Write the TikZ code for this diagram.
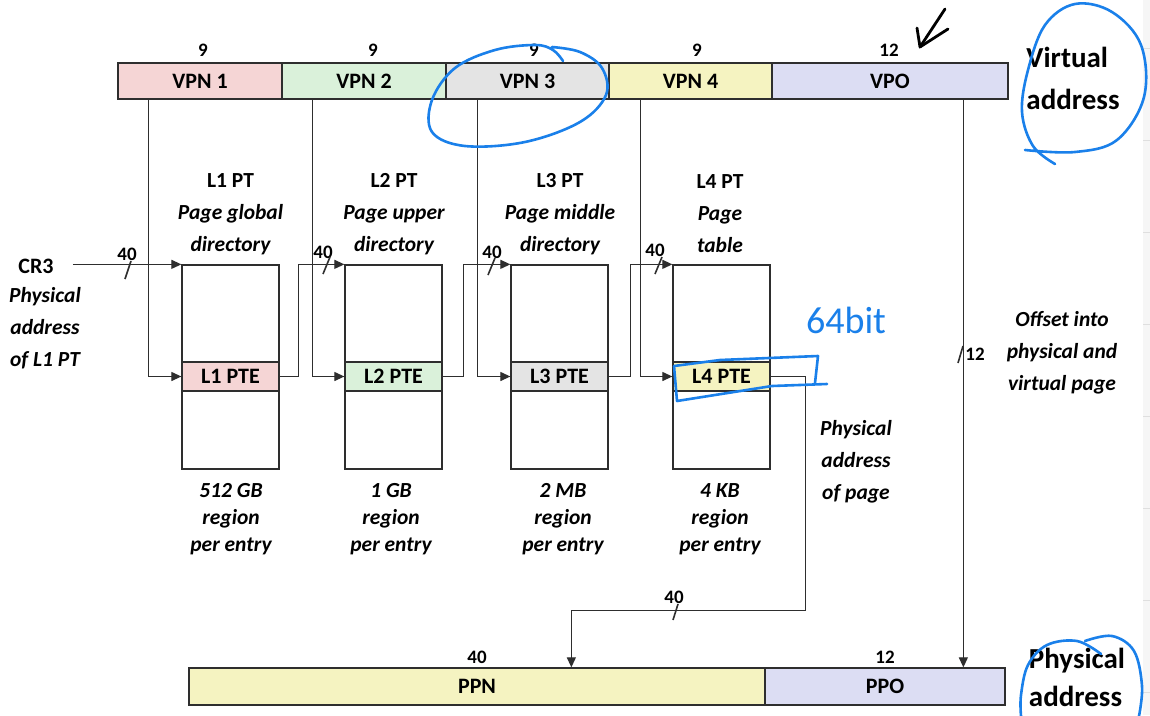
\documentclass[tikz,border=0pt]{standalone}
\usepackage{fontspec}
\setmainfont{Carlito}
\usetikzlibrary{arrows.meta,calc}
\definecolor{cpink}{HTML}{F5D5D5}
\definecolor{cgreen}{HTML}{DAF1DA}
\definecolor{cgray}{HTML}{E4E4E4}
\definecolor{cyellow}{HTML}{F5F3C1}
\definecolor{clav}{HTML}{DCDDF3}
\definecolor{lineC}{HTML}{2E2E2E}
\definecolor{handblue}{HTML}{1A80EA}
\tikzset{
  bar/.style={draw=lineC, line width=1.3pt, minimum height=36pt, inner sep=0pt, font=\fontsize{22}{26}\selectfont\bfseries},
  tbl/.style={draw=lineC, line width=1.3pt, minimum width=97pt, minimum height=204pt, inner sep=0pt},
  pte/.style={draw=lineC, line width=1.3pt, minimum width=97pt, minimum height=29pt, inner sep=0pt, font=\fontsize{22}{26}\selectfont\bfseries},
  bits/.style={font=\fontsize{19}{22}\selectfont\bfseries, inner sep=0pt},
  lbl/.style={font=\fontsize{21.5}{32}\selectfont\bfseries\itshape, align=center, inner sep=0pt},
  big/.style={font=\fontsize{29}{42}\selectfont\bfseries, align=left, inner sep=0pt},
  conn/.style={draw=lineC, line width=1.2pt},
  arr/.style={conn, -{Triangle[length=10pt,width=9pt]}},
  slash/.style={draw=lineC, line width=1.6pt},
  hand/.style={draw=handblue, line width=2.6pt, line cap=round, line join=round},
}
\begin{document}
\begin{tikzpicture}[x=1pt,y=-1pt]
\useasboundingbox (0,0) rectangle (1150,715);
\fill[white] (0,0) rectangle (1150,715);
% paper edge at right
\fill[gray!7] (1143,0) rectangle (1150,715);
\foreach \yy in {48,140,232,324,416,508,600,692} \draw[gray!25, line width=0.8pt] (1143,\yy) -- (1150,\yy);

% virtual address bar
\node[bar, fill=cpink,   minimum width=164pt] (vpn1) at (200,81)   {VPN 1};
\node[bar, fill=cgreen,  minimum width=164pt] (vpn2) at (364,81)   {VPN 2};
\node[bar, fill=cgray,   minimum width=163pt] (vpn3) at (527.5,81) {VPN 3};
\node[bar, fill=cyellow, minimum width=163pt] (vpn4) at (690.5,81) {VPN 4};
\node[bar, fill=clav,    minimum width=236pt] (vpo)  at (890,81)   {VPO};
\node[bits] (b1) at (203,50) {9};
\node[bits] (b2) at (373,50) {9};
\node[bits] (b3) at (534,50) {9};
\node[bits] (b4) at (697,50) {9};
\node[bits] (b5) at (889,50) {12};
\node[big] (va) at (1073,78) {Virtual\\address};

% page tables
\node[tbl] (l1t) at (230.5,367) {};
\node[tbl] (l2t) at (393.5,367) {};
\node[tbl] (l3t) at (559.5,367) {};
\node[tbl] (l4t) at (721.5,367) {};
\node[pte, fill=cpink]   (l1pte) at (230.5,376.5) {L1 PTE};
\node[pte, fill=cgreen]  (l2pte) at (393.5,376.5) {L2 PTE};
\node[pte, fill=cgray]   (l3pte) at (559.5,376.5) {L3 PTE};
\node[pte, fill=cyellow] (l4pte) at (721.5,376.5) {L4 PTE};

\node[lbl] (h1) at (230.5,214) {{\upshape L1 PT}\\Page global\\directory};
\node[lbl] (h2) at (394,214)   {{\upshape L2 PT}\\Page upper\\directory};
\node[lbl] (h3) at (560,214)   {{\upshape L3 PT}\\Page middle\\directory};
\node[lbl] (h4) at (720,214)   {{\upshape L4 PT}\\Page\\table};

\node[lbl, font=\fontsize{21.5}{27}\selectfont\bfseries\itshape] (r1) at (231,519) {512 GB\\region\\per entry};
\node[lbl, font=\fontsize{21.5}{27}\selectfont\bfseries\itshape] (r2) at (391,519) {1 GB\\region\\per entry};
\node[lbl, font=\fontsize{21.5}{27}\selectfont\bfseries\itshape] (r3) at (563,519) {2 MB\\region\\per entry};
\node[lbl, font=\fontsize{21.5}{27}\selectfont\bfseries\itshape] (r4) at (720,519) {4 KB\\region\\per entry};

% CR3
\node[inner sep=0pt, font=\fontsize{22}{26}\selectfont\bfseries] (cr3) at (36,266) {CR3};
\node[lbl] (cr3t) at (45,328) {Physical\\address\\of L1 PT};

% right texts
\node[lbl] (off) at (1062,353) {Offset into\\physical and\\virtual page};
\node[lbl] (pap) at (856,462) {Physical\\address\\of page};

% physical address bar
\node[bar, fill=cyellow, minimum width=576pt, minimum height=37pt] (ppn) at (477,686.5) {PPN};
\node[bar, fill=clav,    minimum width=240pt, minimum height=37pt] (ppo) at (885,686.5) {PPO};
\node[bits] (b6) at (477,657) {40};
\node[bits] (b7) at (885,657) {12};
\node[big, font=\fontsize{29}{38}\selectfont\bfseries] (pa) at (1077,677) {Physical\\address};

% connectors
\draw[arr] ($(cr3.east |- l1t.north)+(19,0)$) -- (l1t.north west);
\draw[arr] ([xshift=31]vpn1.south west) |- (l1pte.west);
\draw[arr] ([xshift=31]vpn2.south west) |- (l2pte.west);
\draw[arr] ([xshift=32]vpn3.south west) |- (l3pte.west);
\draw[arr] ([xshift=32]vpn4.south west) |- (l4pte.west);
\draw[arr] (l1pte.east) -- ++(19,0) |- (l2t.north west);
\draw[arr] (l2pte.east) -- ++(21,0) |- (l3t.north west);
\draw[arr] (l3pte.east) -- ++(22,0) |- (l4t.north west);
\draw[arr] (l4pte.east) -| ++(35,234) -| ([xshift=383]ppn.north west);
\draw[arr] ([xshift=192]vpo.south west) -- ([xshift=199]ppo.north west);

% width marks
\node[bits] (w1) at (127,254) {40};
\draw[slash] (125,279) -- (131,261);
\node[bits] (w2) at (323,252) {40};
\draw[slash] (323,274) -- (330,257);
\node[bits] (w3) at (492,252) {40};
\draw[slash] (488,275) -- (495,258);
\node[bits] (w4) at (655,250) {40};
\draw[slash] (655,274) -- (662,257);
\node[bits] (w5) at (674,597) {40};
\draw[slash] (673,620) -- (678,604);
\node[bits] (w6) at (975,354) {12};
\draw[slash] (958,363) -- (963,346);

% handwritten annotations
\draw[hand] plot[smooth, tension=0.6] coordinates {(563,61) (553,50) (535,45) (495,50) (455,68) (432,100) (432,132) (465,146) (525,142) (580,122) (606,95) (602,68) (580,52) (552,47)};
\draw[hand] plot[smooth, tension=0.6] coordinates {(1025,150) (1075,152) (1117,140) (1144,97) (1141,45) (1112,12) (1075,4) (1045,25) (1028,70) (1022,112) (1033,146) (1055,164)};
\draw[hand] plot[smooth, tension=0.6] coordinates {(1101,654) (1077,641) (1047,645) (1028,665) (1021,695) (1021,716)};
\draw[hand] plot[smooth, tension=0.6] coordinates {(1085,641) (1112,636) (1134,651) (1142,686) (1139,716)};
\draw[hand] (827,384) -- (772,386) -- (677,401) -- (674,366) -- (720,360) -- (818,356) -- (815,383);
\node[inner sep=0pt, text=handblue, font=\fontsize{38}{40}\selectfont] (hb) at (846,320) {64bit};
\draw[line width=2.8pt, line cap=round, line join=round] (945,9) -- (920,47);
\draw[line width=2.8pt, line cap=round, line join=round] (917,28) -- (920,47) -- (948,29);
\end{tikzpicture}
\end{document}
